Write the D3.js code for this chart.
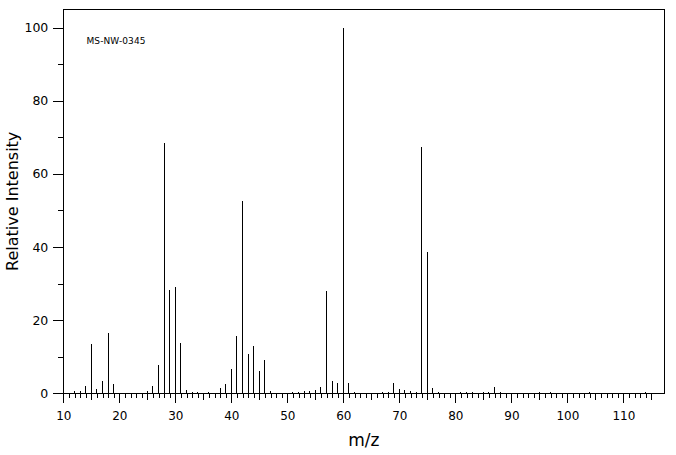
<!DOCTYPE html>
<html>
<head>
<meta charset="utf-8">
<script src="https://cdn.jsdelivr.net/npm/d3@7"></script>
<style>
  body { margin: 0; background: #fff; }
  svg text { font-family: "DejaVu Sans", sans-serif; fill: #000; }
</style>
</head>
<body>
<svg id="chart" width="676" height="455"></svg>
<script>
// peak list
const mzValues = [12, 13, 14, 15, 16, 17, 18, 19, 25, 26, 27, 28, 29, 30, 31, 32, 33, 34, 36,
    38, 39, 40, 41, 42, 43, 44, 45, 46, 47, 51, 52, 53, 54, 55, 56, 57, 58, 59, 60, 61, 62,
    67, 68, 69, 70, 71, 72, 73, 74, 75, 76, 77, 81, 82, 83, 85, 86, 87, 88, 95, 97, 104, 114];
const intensities = [0.5, 0.5, 1.9, 13.5, 1.1, 3.5, 16.4, 2.5, 0.5, 1.9, 7.7, 68.4, 28.2, 29.0, 13.7, 0.8, 0.3, 0.4, 0.3,
    1.4, 2.5, 6.6, 15.7, 52.6, 10.7, 12.8, 6.0, 9.0, 0.5, 0.3, 0.3, 0.5, 0.5, 0.8, 1.6, 28.0, 3.3, 2.7, 100, 2.7, 0.3,
    0.3, 0.3, 2.7, 1.1, 0.8, 0.5, 0.3, 67.4, 38.6, 1.4, 0.3, 0.3, 0.3, 0.3, 0.3, 0.3, 1.6, 0.4, 0.3, 0.3, 0.3, 0.3];

const xMinor = d3.range(10, 116);            // every unit
const xMid = d3.range(15, 116, 10);           // 15, 25, ...
const xMajor = d3.range(10, 111, 10);         // labelled
const yMajor = [0, 20, 40, 60, 80, 100];
const yMinor = [10, 30, 50, 70, 90];
const sampleId = "MS-NW-0345";

const svg = d3.select("#chart");
const pLeft = 63.3, pRight = 664.3, pTop = 9.3, pBottom = 393.3;

const x = d3.scaleLinear().domain([10, 117.3]).range([pLeft, pRight]);
const y = d3.scaleLinear().domain([0, 105]).range([pBottom, pTop]);

const g = svg.append("g").attr("shape-rendering", "crispEdges");

// x axis ticks (three lengths)
function xTicks(vals, size, labels) {
    const ax = d3.axisBottom(x).tickValues(vals).tickSize(size).tickPadding(8.4)
        .tickFormat(labels ? d3.format("d") : "");
    const a = g.append("g").attr("transform", `translate(0,${pBottom})`).call(ax);
    a.select(".domain").remove();
    a.selectAll("text").attr("font-size", 12).attr("font-family", "DejaVu Sans, sans-serif");
}
xTicks(xMinor, 5, false);
xTicks(xMid, 7, false);
xTicks(xMajor, 10, true);

// y axis ticks
function yTicks(vals, size, labels) {
    const ax = d3.axisLeft(y).tickValues(vals).tickSize(size).tickPadding(5)
        .tickFormat(labels ? d3.format("d") : "");
    const a = g.append("g").attr("transform", `translate(${pLeft},0)`).call(ax);
    a.select(".domain").remove();
    a.selectAll("text").attr("font-size", 12.5).attr("font-family", "DejaVu Sans, sans-serif");
}
yTicks(yMajor, 10, true);
yTicks(yMinor, 5, false);

// frame
g.append("rect")
    .attr("x", pLeft).attr("y", pTop)
    .attr("width", pRight - pLeft).attr("height", pBottom - pTop)
    .attr("fill", "none").attr("stroke", "#000").attr("stroke-width", 1);

// peaks
const peaks = mzValues.map((m, i) => ({ mz: m, v: intensities[i] }));
g.selectAll(".peak").data(peaks).enter()
    .append("line")
    .attr("class", "peak")
    .attr("x1", d => x(d.mz)).attr("x2", d => x(d.mz))
    .attr("y1", y(0)).attr("y2", d => y(d.v))
    .attr("stroke", "#000").attr("stroke-width", 1);

// labels
svg.append("text")
    .attr("x", 86.5).attr("y", 44)
    .attr("font-size", 9)
    .attr("textLength", 59)
    .text(sampleId);

svg.append("text")
    .attr("x", (pLeft + pRight) / 2).attr("y", 446)
    .attr("text-anchor", "middle")
    .attr("font-size", 17)
    .text("m/z");

svg.append("text")
    .attr("transform", `translate(18,${(pTop + pBottom) / 2}) rotate(-90)`)
    .attr("text-anchor", "middle")
    .attr("font-size", 16)
    .text("Relative Intensity");
</script>
</body>
</html>
